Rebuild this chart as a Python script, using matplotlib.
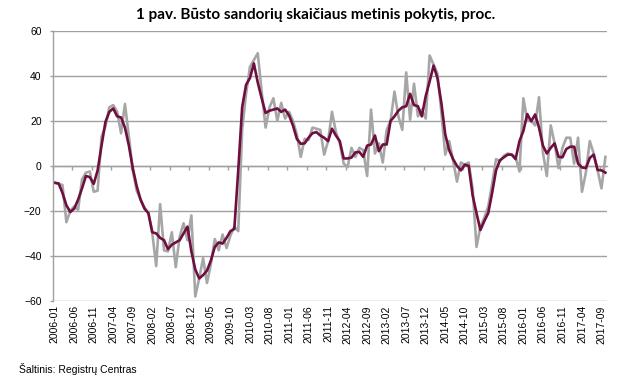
#!/usr/bin/env python3
"""Annual change of housing transactions count (Lithuania), 2006-01 .. 2017-10."""

import matplotlib

matplotlib.use("Agg")
import matplotlib.pyplot as plt
import numpy as np
import pandas as pd

TITLE = "1 pav. Būsto sandorių skaičiaus metinis pokytis, proc."
SOURCE = "Šaltinis: Registrų Centras"

MONTHS = list(pd.period_range("2006-01", "2017-10", freq="M").strftime("%Y-%m"))

# monthly annual change, %
MONTHLY = [
    -7.5, -8, -8.5, -25, -20, -18, -19.5, -6, -3, -2.5, -11.5, -11,
    13, 17.5, 26, 27, 24, 14.5, 27.5, 13, -2, -11, -15, -18.5,
    -21, -30, -44.5, -17, -37.5, -38, -29.5, -45, -31.5, -25.5, -33, -22,
    -58, -50, -41, -52, -43.5, -32.5, -37.5, -30.5, -36.5, -31, -27, -29,
    16, 32, 44, 47, 50, 33, 17, 26, 30, 20, 28, 21,
    24, 20, 14, 4, 12, 11.5, 17, 16.5, 16, 5, 11, 24,
    15, 10, 1, -0.5, 8, 4, 8, 7, -4.5, 25, 5.5, 10,
    1.5, 16, 20, 33, 22, 16, 41.5, 20.5, 36.5, 22, 25, 21,
    49, 45, 41, 24, 5, 11, 2.5, -7, 1.5, 0.5, 1.5, -10,
    -36, -27, -23, -18, -8, 3, 2, 4.5, 5.5, 5, 4, -2.5,
    30, 20, 20, 18, 30.5, 6, -4.5, 18, 10, -1, 8, 12.5,
    12.5, 1, 12.5, -11.5, -3, 11, 5.5, -2, -10, 4,
]

# smoothed annual change, %
SMOOTHED = [
    -7.5, -7.8, -12, -17.5, -20.5, -19, -15, -10, -4.5, -5, -8, -2,
    9, 19.5, 24, 25.5, 22, 21.5, 17, 9, -1, -9, -15, -19,
    -21, -29.5, -30, -32, -33, -37, -35, -34, -33, -30, -27, -38,
    -46, -50, -48.5, -46.5, -42, -36, -34, -34.5, -32, -29, -28, -2,
    26, 36, 39, 45.5, 37, 30, 23.5, 24.5, 25, 25.5, 24, 25,
    22.5, 18, 12, 9.8, 10, 12.5, 14.5, 15, 13.5, 12.5, 11, 16.5,
    13.5, 11, 3.3, 3.3, 3.7, 6, 6.2, 4, 9, 9.5, 13.5, 6.5,
    9.5, 9.5, 20, 22, 24.5, 26, 26.5, 32, 27, 26.5, 22, 31,
    37.5, 44.5, 39, 28, 14, 7, 3, 0, -2, 0.5, 0, -13,
    -21, -28.5, -24.5, -21, -12, -2, 2.5, 3.8, 5, 5, 3, 11,
    15.5, 23, 19.8, 22.8, 17, 9, 5.5, 8, 10, 4, 3.8, 7.5,
    8.5, 8.5, 1, -0.7, -1, 3.5, 5, -1.8, -2, -3,
]

GREY = "#a6a6a6"
MAROON = "#6e0f40"
AXIS = "#a0a0a0"

plt.rcParams["font.family"] = ["Liberation Sans", "DejaVu Sans"]

fig = plt.figure(figsize=(6.32, 3.8), dpi=100)
ax = fig.add_axes([0.0834, 0.208, 0.8776, 0.711])

x = np.arange(len(MONTHS))
ax.plot(x, MONTHLY, color=GREY, lw=1.9, solid_joinstyle="round")
ax.plot(x, SMOOTHED, color=MAROON, lw=1.9, solid_joinstyle="round")

ax.set_xlim(-0.5, len(MONTHS) - 0.5)
ax.set_ylim(-60, 60)
ax.set_yticks(range(-60, 61, 20))
ax.yaxis.grid(True, color=AXIS, lw=1)
ax.set_axisbelow(True)

for side in ("top", "right", "bottom"):
    ax.spines[side].set_visible(False)
ax.spines["left"].set_color(AXIS)
ax.spines["left"].set_linewidth(1)

ax.set_xticks(x[::5], MONTHS[::5], rotation=90)
ax.tick_params(axis="x", length=0, pad=3, labelsize=7.5)
ax.tick_params(axis="y", length=2.5, width=1, color=AXIS, pad=5.5, labelsize=7.5)

# category axis line crossing at zero, tick marks between categories
zero = ax.secondary_xaxis(0.5)
zero.set_alignment("bottom")
zero.set_xticks(np.arange(-0.5, len(MONTHS), 5), [])
zero.tick_params(length=3, width=1, color=AXIS, direction="out")
zero.spines["bottom"].set_color(AXIS)
zero.spines["bottom"].set_linewidth(1)

fig.text(0.5, 0.96, TITLE, ha="center", va="center", fontsize=11,
         fontweight="bold", family=["Lato", "DejaVu Sans"])
fig.text(19 / 632, 1 - 369 / 380, SOURCE, ha="left", va="center", fontsize=7.5)

fig.savefig("out.png", dpi=100)
